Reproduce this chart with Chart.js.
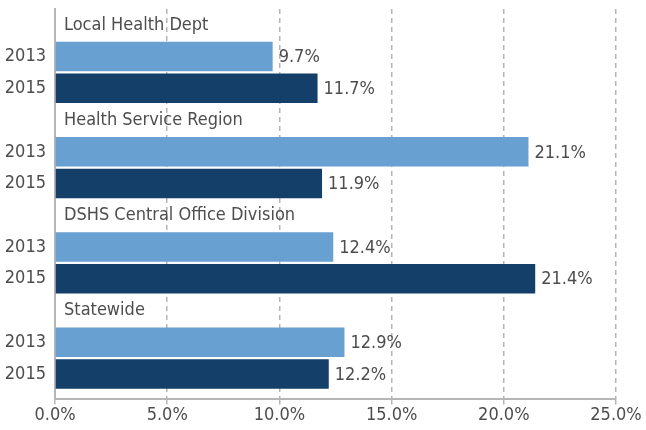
<!DOCTYPE html>
<html lang="en">
<head>
  <meta charset="utf-8">
  <title>Rates by Office</title>
  <script src="https://cdn.jsdelivr.net/npm/chart.js@4.4.1/dist/chart.umd.min.js"></script>
  <style>
    body { margin: 0; background: #fff; }
    #wrap { width: 646px; height: 430px; }
  </style>
</head>
<body>
  <div id="wrap"><canvas id="chart"></canvas></div>
  <script>
    // groups, top to bottom
    var groups = ["Local Health Dept", "Health Service Region", "DSHS Central Office Division", "Statewide"];
    var years = ["2013", "2015"];
    var values2013 = [9.7, 21.1, 12.4, 12.9];
    var values2015 = [11.7, 11.9, 21.4, 12.2];
    var xTicks = [0, 5, 10, 15, 20, 25];

    var FONT = "'Liberation Sans Narrow', 'DejaVu Sans Condensed', sans-serif";
    var TEXT = "#4d4d4d";
    var LINE = "#b5b5b5";

    // one title row + one row per year in each group
    var rowLabels = [];
    groups.forEach(function(g) {
      rowLabels.push("");
      years.forEach(function(y) { rowLabels.push(y); });
    });

    function rows(values, yearIdx) {
      return values.map(function(v, g) {
        return { x: v, y: g * 3 + 1 + yearIdx };
      });
    }

    var groupTitles = {
      id: "groupTitles",
      afterDatasetsDraw: function(chart) {
        var ctx = chart.ctx, ys = chart.scales.y;
        ctx.save();
        ctx.font = "18px " + FONT;
        ctx.fillStyle = TEXT;
        ctx.textBaseline = "middle";
        ctx.textAlign = "left";
        groups.forEach(function(g, i) {
          ctx.fillText(g, chart.chartArea.left + 9, ys.getPixelForValue(i * 3));
        });
        // value labels at the end of each bar
        chart.data.datasets.forEach(function(ds, d) {
          chart.getDatasetMeta(d).data.forEach(function(bar, i) {
            ctx.fillText(ds.data[i].x.toFixed(1) + "%", bar.x + 6, bar.y + 1);
          });
        });
        ctx.restore();
      }
    };

    new Chart(document.getElementById("chart"), {
      type: "bar",
      data: {
        datasets: [
          { label: years[0], data: rows(values2013, 0), backgroundColor: "#68a0d2" },
          { label: years[1], data: rows(values2015, 1), backgroundColor: "#143f69" }
        ]
      },
      options: {
        indexAxis: "y",
        responsive: true,
        maintainAspectRatio: false,
        animation: false,
        grouped: false,
        barPercentage: 0.93,
        categoryPercentage: 1,
        layout: { padding: { top: 9, right: 30, bottom: 4, left: 0 } },
        plugins: { legend: { display: false }, tooltip: { enabled: false } },
        scales: {
          x: {
            min: xTicks[0],
            max: xTicks[xTicks.length - 1],
            afterBuildTicks: function(scale) {
              scale.ticks = xTicks.map(function(v) { return { value: v }; });
            },
            ticks: {
              color: TEXT,
              font: { family: FONT, size: 18 },
              padding: 0,
              callback: function(v) { return v.toFixed(1) + "%"; }
            },
            grid: {
              color: function(c) { return c.index === 0 ? "rgba(0,0,0,0)" : LINE; },
              tickColor: LINE,
              tickLength: 5,
              lineWidth: 1.5
            },
            border: { color: LINE, width: 2, dash: [5, 4] }
          },
          y: {
            type: "linear",
            reverse: true,
            offset: false,
            min: -0.5,
            max: 11.8,
            afterBuildTicks: function(scale) {
              scale.ticks = rowLabels.map(function(l, i) { return { value: i }; });
            },
            afterFit: function(scale) {
              scale.width = 55;
              scale.paddingTop = 0;
              scale.paddingBottom = 0;
            },
            ticks: {
              autoSkip: false,
              color: TEXT,
              padding: 9,
              font: { family: FONT, size: 18 },
              callback: function(v) { return rowLabels[v] || ""; }
            },
            grid: { display: false, drawTicks: false, offset: false },
            border: { color: LINE, width: 2 }
          }
        }
      },
      plugins: [groupTitles]
    });
  </script>
</body>
</html>
